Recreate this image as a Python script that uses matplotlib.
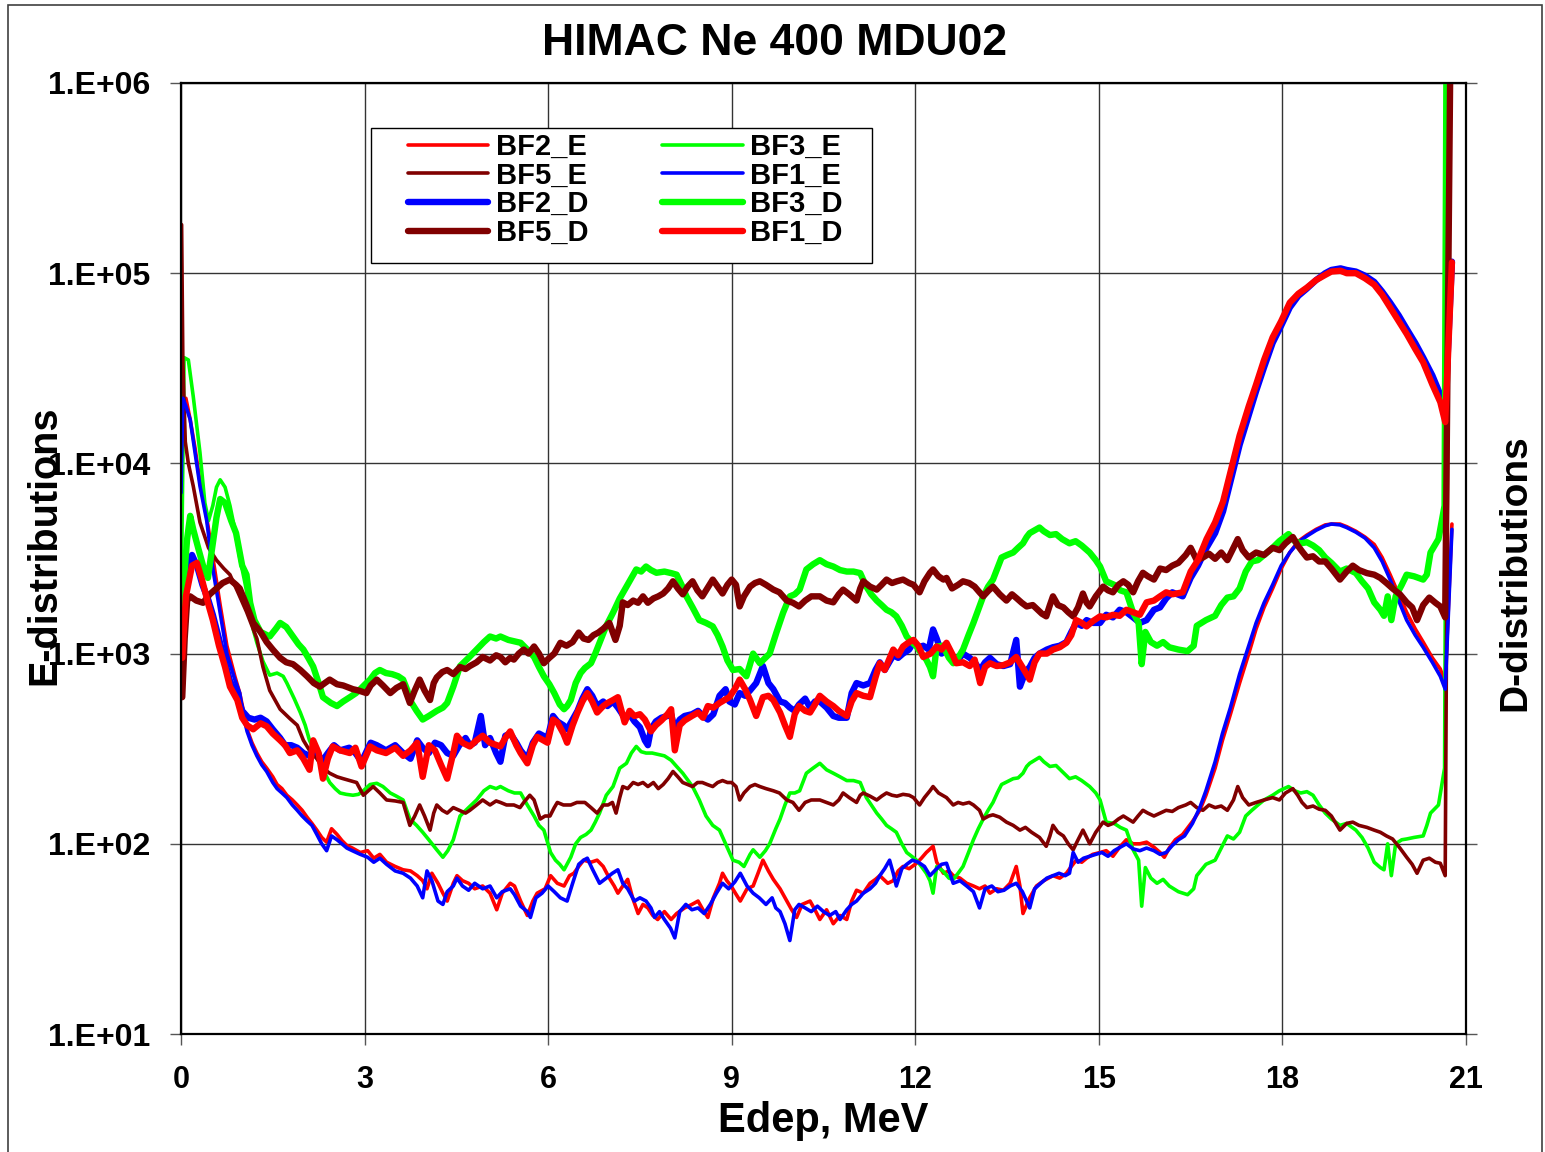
import numpy as np
import matplotlib
matplotlib.use("Agg")
import matplotlib.pyplot as plt
from matplotlib.patches import Rectangle
from matplotlib.ticker import FixedLocator, NullLocator

plt.rcParams["font.family"] = ["Liberation Sans", "DejaVu Sans"]
plt.rcParams["font.weight"] = "bold"

# ---- data: (Edep MeV, counts) ----
bf1_d = [(0.02, 950), (0.08, 2000), (0.18, 2900), (0.26, 3000), (0.35, 2400), (0.45, 1800), (0.52, 1500),
         (0.62, 1100), (0.72, 850), (0.8, 670), (0.92, 570), (1.0, 460), (1.08, 420), (1.18, 400), (1.3, 430),
         (1.4, 415), (1.5, 380), (1.62, 350), (1.7, 330), (1.78, 300), (1.9, 310), (2.0, 280), (2.1, 245),
         (2.16, 350), (2.25, 300), (2.32, 220), (2.4, 280), (2.48, 325), (2.6, 310), (2.76, 300), (2.85, 320),
         (2.95, 255), (3.09, 325), (3.2, 310), (3.35, 300), (3.5, 320), (3.63, 290), (3.75, 310), (3.86, 340),
         (3.95, 225), (4.05, 330), (4.15, 310), (4.25, 260), (4.35, 220), (4.45, 300), (4.51, 370), (4.6, 340),
         (4.72, 325), (4.83, 350), (4.93, 370), (5.05, 340), (5.22, 325), (5.3, 360), (5.38, 390), (5.48, 330),
         (5.55, 300), (5.66, 265), (5.75, 330), (5.82, 365), (5.99, 340), (6.08, 450), (6.15, 435), (6.25, 380),
         (6.31, 340), (6.4, 420), (6.48, 490), (6.56, 560), (6.64, 620), (6.72, 560), (6.8, 490), (6.9, 530),
         (6.97, 550), (7.06, 570), (7.14, 590), (7.25, 435), (7.33, 500), (7.41, 470), (7.5, 480), (7.58, 450),
         (7.68, 390), (7.76, 420), (7.85, 445), (7.95, 480), (8.01, 510), (8.07, 310), (8.15, 420), (8.23, 445),
         (8.35, 470), (8.45, 490), (8.53, 460), (8.61, 530), (8.7, 520), (8.8, 550), (8.96, 590), (9.05, 650),
         (9.13, 730), (9.22, 650), (9.3, 570), (9.4, 470), (9.51, 590), (9.6, 600), (9.68, 570), (9.79, 490),
         (9.87, 420), (9.95, 365), (10.03, 480), (10.1, 530), (10.2, 500), (10.28, 490), (10.36, 540),
         (10.44, 600), (10.55, 560), (10.66, 530), (10.75, 500), (10.88, 470), (10.96, 560), (11.04, 620),
         (11.15, 600), (11.26, 590), (11.35, 750), (11.42, 890), (11.5, 820), (11.64, 1050), (11.72, 980),
         (11.8, 1090), (11.9, 1150), (11.97, 1180), (12.05, 1100), (12.13, 960), (12.25, 1000), (12.35, 1090),
         (12.43, 1050), (12.51, 1140), (12.6, 1000), (12.67, 890), (12.78, 900), (12.89, 860), (12.97, 930),
         (13.06, 700), (13.14, 850), (13.22, 890), (13.33, 860), (13.44, 870), (13.55, 900), (13.65, 960),
         (13.75, 850), (13.87, 730), (13.95, 900), (14.03, 1000), (14.15, 1000), (14.25, 1050), (14.36, 1080),
         (14.47, 1140), (14.55, 1250), (14.63, 1500), (14.72, 1450), (14.8, 1390), (14.9, 1480), (15.02, 1570),
         (15.12, 1550), (15.23, 1600), (15.34, 1580), (15.45, 1700), (15.56, 1650), (15.67, 1600), (15.78, 1860),
         (15.9, 1900), (16.0, 2000), (16.1, 2100), (16.2, 2050), (16.37, 2100), (16.5, 2700), (16.62, 3100),
         (16.76, 4000), (16.9, 4900), (17.03, 6300), (17.15, 9000), (17.3, 14000), (17.45, 20000),
         (17.57, 26000), (17.7, 35000), (17.84, 46000), (17.98, 56000), (18.12, 70000), (18.26, 78000),
         (18.4, 84000), (18.55, 92000), (18.7, 98000), (18.8, 102000), (18.95, 103000), (19.05, 100000),
         (19.2, 100000), (19.35, 94000), (19.5, 87000), (19.63, 77000), (19.76, 66000), (19.9, 56000),
         (20.03, 48000), (20.17, 40000), (20.3, 34000), (20.45, 26000), (20.58, 21000), (20.66, 16500),
         (20.77, 114000)]

bf2_d = [(0.02, 1500), (0.1, 2800), (0.18, 3300), (0.26, 2900), (0.35, 2300), (0.45, 1900), (0.52, 1600),
         (0.62, 1200), (0.72, 900), (0.8, 720), (0.92, 600), (1.0, 500), (1.1, 460), (1.2, 450), (1.3, 460),
         (1.4, 440), (1.5, 400), (1.62, 360), (1.7, 330), (1.8, 330), (1.9, 320), (2.0, 300), (2.1, 290),
         (2.2, 320), (2.3, 270), (2.4, 300), (2.5, 330), (2.6, 310), (2.75, 320), (2.85, 300), (2.95, 270),
         (3.1, 340), (3.2, 330), (3.35, 310), (3.5, 330), (3.63, 300), (3.75, 280), (3.86, 350), (3.95, 320),
         (4.05, 300), (4.15, 340), (4.25, 330), (4.35, 300), (4.45, 290), (4.55, 330), (4.65, 360), (4.72, 330),
         (4.8, 340), (4.9, 470), (4.97, 330), (5.05, 360), (5.15, 300), (5.22, 270), (5.3, 370), (5.38, 380),
         (5.48, 340), (5.55, 310), (5.66, 280), (5.75, 340), (5.85, 380), (5.99, 360), (6.08, 470), (6.15, 440),
         (6.25, 420), (6.31, 400), (6.4, 450), (6.48, 500), (6.56, 580), (6.64, 650), (6.72, 600), (6.8, 530),
         (6.9, 560), (6.97, 530), (7.06, 560), (7.14, 520), (7.25, 460), (7.33, 480), (7.41, 440), (7.5, 410),
         (7.58, 350), (7.63, 330), (7.68, 400), (7.76, 440), (7.85, 460), (7.95, 470), (8.01, 480), (8.07, 400),
         (8.15, 450), (8.23, 470), (8.35, 480), (8.45, 500), (8.53, 470), (8.61, 450), (8.7, 480), (8.8, 600),
         (8.9, 650), (8.96, 560), (9.05, 540), (9.13, 620), (9.22, 600), (9.3, 640), (9.4, 700), (9.51, 860),
         (9.6, 700), (9.68, 650), (9.79, 560), (9.87, 550), (9.95, 520), (10.03, 500), (10.1, 540), (10.2, 580),
         (10.28, 520), (10.36, 560), (10.44, 560), (10.55, 520), (10.66, 470), (10.75, 460), (10.88, 460),
         (10.96, 620), (11.04, 700), (11.15, 680), (11.26, 700), (11.35, 820), (11.42, 900), (11.5, 820),
         (11.64, 980), (11.72, 950), (11.8, 1000), (11.9, 1050), (11.97, 1150), (12.05, 1080), (12.13, 1100),
         (12.22, 1050), (12.29, 1340), (12.35, 1200), (12.43, 1000), (12.51, 1050), (12.6, 950), (12.67, 900),
         (12.78, 1000), (12.89, 950), (12.97, 900), (13.06, 820), (13.14, 900), (13.22, 950), (13.33, 880),
         (13.44, 860), (13.55, 880), (13.65, 1180), (13.71, 670), (13.8, 800), (13.87, 850), (13.95, 950),
         (14.03, 1000), (14.15, 1050), (14.25, 1080), (14.36, 1100), (14.47, 1150), (14.55, 1300), (14.63, 1450),
         (14.72, 1400), (14.8, 1500), (14.9, 1450), (15.02, 1450), (15.12, 1600), (15.23, 1550), (15.34, 1700),
         (15.45, 1650), (15.56, 1550), (15.67, 1450), (15.78, 1500), (15.9, 1700), (16.0, 1750), (16.1, 1950),
         (16.2, 2100), (16.37, 2000), (16.5, 2500), (16.62, 2900), (16.76, 3600), (16.9, 4300), (17.03, 5600),
         (17.15, 8000), (17.3, 12500), (17.45, 18000), (17.57, 24000), (17.7, 32000), (17.84, 43000),
         (17.98, 53000), (18.12, 66000), (18.26, 76000), (18.4, 83000), (18.55, 92000), (18.7, 100000),
         (18.8, 104000), (18.95, 106000), (19.05, 104000), (19.2, 102000), (19.35, 97000), (19.5, 90000),
         (19.63, 80000), (19.76, 70000), (19.9, 60000), (20.03, 51000), (20.17, 43000), (20.3, 36000),
         (20.45, 29000), (20.58, 23000), (20.66, 19000), (20.77, 115000)]

bf2_e = [(0.0, 8000), (0.03, 20000), (0.08, 22000), (0.15, 17000), (0.23, 12000), (0.31, 8000), (0.42, 5200),
         (0.52, 3200), (0.64, 1800), (0.75, 1100), (0.88, 760), (0.96, 620), (1.02, 500), (1.08, 400),
         (1.16, 340), (1.24, 300), (1.32, 270), (1.4, 250), (1.5, 225), (1.57, 205), (1.65, 195), (1.73, 180),
         (1.82, 170), (1.9, 160), (1.98, 150), (2.06, 138), (2.14, 128), (2.22, 118), (2.3, 108), (2.38, 102),
         (2.46, 120), (2.55, 112), (2.63, 104), (2.71, 98), (2.8, 95), (2.93, 90), (3.05, 92), (3.15, 84),
         (3.25, 88), (3.36, 80), (3.5, 76), (3.63, 73), (3.75, 72), (3.86, 68), (3.95, 64), (4.02, 58),
         (4.1, 70), (4.2, 62), (4.28, 55), (4.35, 50), (4.45, 62), (4.51, 68), (4.6, 64), (4.7, 62), (4.8, 58),
         (4.93, 60), (5.05, 55), (5.16, 45), (5.25, 55), (5.38, 62), (5.45, 60), (5.55, 50), (5.66, 42),
         (5.75, 50), (5.82, 55), (5.95, 58), (6.04, 68), (6.15, 62), (6.26, 60), (6.35, 68), (6.42, 70),
         (6.5, 76), (6.58, 82), (6.7, 80), (6.8, 82), (6.9, 76), (7.0, 66), (7.08, 60), (7.14, 55), (7.22, 60),
         (7.3, 65), (7.38, 52), (7.47, 43), (7.55, 48), (7.63, 46), (7.71, 42), (7.79, 40), (7.9, 44),
         (8.01, 40), (8.1, 43), (8.23, 46), (8.35, 48), (8.45, 50), (8.53, 45), (8.61, 41), (8.7, 52), (8.8, 62),
         (8.85, 70), (8.92, 64), (8.99, 60), (9.06, 55), (9.14, 50), (9.25, 58), (9.35, 60), (9.43, 70),
         (9.51, 82), (9.6, 72), (9.68, 65), (9.79, 58), (9.9, 50), (9.98, 45), (10.06, 41), (10.15, 48),
         (10.28, 50), (10.36, 45), (10.44, 40), (10.55, 45), (10.66, 38), (10.77, 42), (10.88, 40), (10.96, 50),
         (11.04, 57), (11.15, 55), (11.26, 62), (11.35, 65), (11.42, 68), (11.55, 62), (11.64, 64), (11.72, 72),
         (11.8, 76), (11.9, 74), (12.02, 79), (12.1, 84), (12.18, 90), (12.29, 97), (12.35, 80), (12.46, 70),
         (12.55, 72), (12.62, 68), (12.73, 66), (12.84, 62), (12.95, 60), (13.05, 58), (13.14, 60), (13.22, 55),
         (13.33, 58), (13.44, 57), (13.55, 62), (13.65, 76), (13.71, 60), (13.76, 43), (13.87, 52), (13.98, 60),
         (14.1, 64), (14.25, 68), (14.36, 66), (14.47, 70), (14.55, 76), (14.63, 82), (14.72, 80), (14.8, 84),
         (14.9, 88), (15.02, 90), (15.12, 92), (15.23, 86), (15.34, 96), (15.45, 105), (15.56, 100),
         (15.67, 100), (15.78, 102), (15.9, 96), (16.0, 90), (16.07, 85), (16.15, 95), (16.25, 105),
         (16.37, 112), (16.53, 131), (16.65, 150), (16.75, 180), (16.9, 250), (17.02, 350), (17.15, 480),
         (17.3, 700), (17.45, 1000), (17.57, 1350), (17.7, 1750), (17.84, 2200), (17.98, 2800), (18.12, 3400),
         (18.26, 3900), (18.4, 4200), (18.55, 4500), (18.7, 4750), (18.8, 4800), (18.94, 4800), (19.05, 4650),
         (19.2, 4400), (19.35, 4100), (19.5, 3750), (19.63, 3200), (19.76, 2600), (19.9, 2050), (20.03, 1650),
         (20.17, 1350), (20.3, 1150), (20.45, 950), (20.58, 830), (20.66, 700), (20.77, 4800)]

bf1_e = [(0.0, 7000), (0.03, 22000), (0.08, 20000), (0.15, 17000), (0.23, 11400), (0.31, 7600), (0.42, 5000),
         (0.52, 2800), (0.64, 1640), (0.75, 1000), (0.88, 730), (0.96, 620), (1.02, 470), (1.08, 390),
         (1.16, 330), (1.24, 290), (1.32, 260), (1.4, 240), (1.5, 210), (1.57, 195), (1.65, 185), (1.73, 175),
         (1.82, 160), (1.9, 150), (1.98, 140), (2.06, 132), (2.14, 125), (2.22, 112), (2.3, 100), (2.38, 92),
         (2.46, 110), (2.55, 105), (2.63, 100), (2.71, 95), (2.8, 92), (2.93, 88), (3.05, 85), (3.15, 80),
         (3.25, 84), (3.36, 78), (3.5, 72), (3.63, 70), (3.75, 66), (3.86, 60), (3.95, 52), (4.02, 72),
         (4.1, 64), (4.2, 50), (4.28, 48), (4.35, 56), (4.45, 60), (4.51, 66), (4.6, 60), (4.7, 57), (4.8, 62),
         (4.93, 58), (5.05, 60), (5.16, 52), (5.25, 56), (5.38, 58), (5.45, 54), (5.55, 47), (5.66, 44),
         (5.71, 41), (5.8, 52), (5.9, 55), (6.0, 60), (6.1, 56), (6.2, 52), (6.31, 50), (6.4, 62), (6.5, 78),
         (6.58, 82), (6.64, 84), (6.72, 74), (6.84, 62), (6.95, 66), (7.05, 70), (7.14, 73), (7.22, 62),
         (7.3, 58), (7.41, 50), (7.5, 52), (7.6, 50), (7.68, 46), (7.74, 41), (7.82, 44), (7.9, 40), (8.0, 36),
         (8.07, 32), (8.15, 44), (8.25, 48), (8.35, 45), (8.45, 46), (8.55, 43), (8.65, 48), (8.75, 55),
         (8.85, 62), (8.95, 58), (9.05, 63), (9.14, 70), (9.25, 60), (9.35, 55), (9.45, 52), (9.56, 48),
         (9.66, 52), (9.72, 46), (9.79, 44), (9.87, 38), (9.95, 31), (10.03, 45), (10.1, 48), (10.2, 46),
         (10.3, 44), (10.4, 47), (10.5, 44), (10.6, 42), (10.7, 44), (10.77, 40), (10.88, 45), (10.96, 48),
         (11.04, 50), (11.15, 55), (11.26, 58), (11.35, 62), (11.42, 68), (11.5, 74), (11.58, 82), (11.64, 70),
         (11.69, 60), (11.78, 74), (11.86, 78), (11.95, 82), (12.05, 80), (12.15, 76), (12.24, 68), (12.35, 74),
         (12.43, 78), (12.51, 79), (12.62, 62), (12.73, 64), (12.84, 60), (12.95, 56), (13.05, 46), (13.14, 58),
         (13.25, 60), (13.35, 56), (13.45, 57), (13.55, 60), (13.65, 62), (13.75, 56), (13.87, 46), (13.95, 58),
         (14.05, 62), (14.15, 66), (14.25, 68), (14.35, 70), (14.45, 68), (14.52, 70), (14.58, 90), (14.66, 80),
         (14.75, 84), (14.85, 86), (14.95, 88), (15.05, 90), (15.15, 86), (15.25, 92), (15.35, 96), (15.45, 100),
         (15.56, 94), (15.67, 92), (15.78, 95), (15.9, 92), (16.0, 88), (16.1, 90), (16.2, 98), (16.3, 105),
         (16.4, 110), (16.53, 128), (16.65, 155), (16.75, 190), (16.9, 270), (17.02, 380), (17.15, 520),
         (17.3, 780), (17.45, 1100), (17.57, 1450), (17.7, 1850), (17.84, 2300), (17.98, 2900), (18.12, 3400),
         (18.26, 3850), (18.4, 4150), (18.55, 4450), (18.7, 4700), (18.8, 4800), (18.94, 4750), (19.05, 4600),
         (19.2, 4350), (19.35, 4050), (19.5, 3600), (19.63, 3050), (19.76, 2450), (19.9, 1900), (20.03, 1500),
         (20.17, 1250), (20.3, 1080), (20.45, 900), (20.58, 760), (20.66, 650), (20.77, 4500)]

bf5_d = [(0.02, 590), (0.06, 1200), (0.1, 1900), (0.15, 2000), (0.25, 1900), (0.36, 1850), (0.47, 2050),
         (0.58, 2200), (0.68, 2350), (0.8, 2450), (0.9, 2300), (0.96, 2200), (1.07, 1800), (1.18, 1450),
         (1.3, 1300), (1.4, 1150), (1.5, 1050), (1.62, 950), (1.72, 900), (1.83, 880), (1.95, 820), (2.06, 760),
         (2.17, 700), (2.27, 670), (2.35, 700), (2.43, 730), (2.55, 690), (2.65, 680), (2.81, 650), (2.9, 640),
         (3.03, 620), (3.1, 680), (3.2, 730), (3.3, 680), (3.42, 620), (3.52, 660), (3.63, 690), (3.74, 550),
         (3.82, 640), (3.9, 730), (3.98, 640), (4.07, 570), (4.13, 700), (4.18, 750), (4.27, 800), (4.35, 820),
         (4.45, 780), (4.56, 850), (4.65, 830), (4.72, 860), (4.83, 900), (4.93, 960), (5.05, 920), (5.15, 980),
         (5.22, 960), (5.3, 900), (5.38, 950), (5.44, 930), (5.52, 1000), (5.6, 1050), (5.68, 1000), (5.77, 1090),
         (5.85, 1000), (5.93, 890), (6.02, 950), (6.1, 1000), (6.2, 1140), (6.3, 1100), (6.4, 1150), (6.5, 1290),
         (6.58, 1200), (6.66, 1180), (6.74, 1250), (6.82, 1290), (6.9, 1350), (7.0, 1450), (7.1, 1180),
         (7.17, 1400), (7.22, 1860), (7.3, 1800), (7.39, 1900), (7.47, 1850), (7.55, 2000), (7.63, 1850),
         (7.72, 1950), (7.8, 2000), (7.88, 2070), (7.96, 2200), (8.04, 2400), (8.12, 2200), (8.2, 2050),
         (8.28, 2250), (8.36, 2400), (8.44, 2150), (8.52, 2000), (8.6, 2200), (8.69, 2450), (8.77, 2250),
         (8.85, 2070), (8.93, 2300), (9.0, 2450), (9.07, 2300), (9.13, 1770), (9.2, 2000), (9.3, 2250),
         (9.38, 2350), (9.46, 2400), (9.56, 2300), (9.68, 2170), (9.78, 2100), (9.9, 1900), (10.0, 1850),
         (10.1, 1770), (10.2, 1900), (10.3, 2000), (10.44, 2000), (10.55, 1900), (10.66, 1860), (10.75, 2050),
         (10.82, 2170), (10.92, 2050), (11.04, 1900), (11.1, 2200), (11.15, 2400), (11.26, 2250), (11.37, 2170),
         (11.45, 2300), (11.53, 2450), (11.62, 2350), (11.7, 2400), (11.8, 2450), (11.9, 2350), (11.97, 2300),
         (12.07, 2100), (12.15, 2400), (12.24, 2660), (12.29, 2770), (12.38, 2550), (12.46, 2450), (12.51, 2500),
         (12.6, 2200), (12.7, 2300), (12.78, 2400), (12.88, 2350), (12.97, 2250), (13.05, 2100), (13.11, 2000),
         (13.2, 2150), (13.27, 2250), (13.38, 2050), (13.49, 1900), (13.58, 2050), (13.66, 1950), (13.74, 1850),
         (13.82, 1770), (13.92, 1800), (14.0, 1700), (14.07, 1620), (14.14, 1570), (14.2, 1800), (14.25, 2000),
         (14.33, 1800), (14.42, 1750), (14.5, 1650), (14.58, 1570), (14.66, 1750), (14.74, 2070), (14.8, 1850),
         (14.85, 1770), (14.95, 2000), (15.07, 2250), (15.15, 2150), (15.23, 2100), (15.32, 2300), (15.4, 2400),
         (15.48, 2300), (15.56, 2100), (15.64, 2400), (15.72, 2660), (15.8, 2550), (15.9, 2450), (16.0, 2800),
         (16.1, 2750), (16.2, 2900), (16.3, 3000), (16.42, 3300), (16.5, 3600), (16.6, 3100), (16.7, 3200),
         (16.8, 3350), (16.9, 3150), (17.0, 3400), (17.1, 3100), (17.2, 3600), (17.27, 4000), (17.35, 3500),
         (17.45, 3200), (17.57, 3400), (17.7, 3300), (17.84, 3600), (17.95, 3500), (18.05, 3800), (18.17, 4100),
         (18.25, 3700), (18.32, 3450), (18.4, 3200), (18.5, 3250), (18.6, 3050), (18.7, 3050), (18.8, 2800),
         (18.94, 2450), (19.05, 2700), (19.15, 2900), (19.25, 2750), (19.38, 2650), (19.5, 2600), (19.6, 2500),
         (19.7, 2350), (19.8, 2200), (19.92, 2050), (20.03, 1860), (20.12, 1750), (20.2, 1500), (20.3, 1800),
         (20.4, 1970), (20.5, 1850), (20.58, 1770), (20.66, 1550), (20.76, 5000000)]

bf5_e = [(0.01, 180000), (0.03, 35000), (0.07, 13000), (0.12, 10000), (0.2, 7600), (0.31, 4900), (0.45, 3600),
         (0.58, 3100), (0.7, 2800), (0.8, 2600), (0.93, 2100), (1.07, 1660), (1.24, 1200), (1.34, 850),
         (1.45, 640), (1.62, 510), (1.78, 455), (1.9, 420), (2.0, 350), (2.1, 310), (2.22, 280), (2.32, 250),
         (2.43, 235), (2.55, 225), (2.65, 220), (2.76, 215), (2.87, 210), (2.98, 180), (3.06, 190), (3.14, 200),
         (3.25, 185), (3.36, 170), (3.5, 168), (3.63, 165), (3.74, 125), (3.82, 140), (3.9, 160), (3.98, 140),
         (4.07, 118), (4.13, 145), (4.18, 160), (4.27, 150), (4.35, 145), (4.45, 155), (4.55, 150), (4.65, 145),
         (4.72, 150), (4.83, 160), (4.93, 170), (5.05, 160), (5.15, 168), (5.22, 165), (5.32, 160), (5.44, 160),
         (5.54, 155), (5.62, 168), (5.7, 180), (5.77, 170), (5.87, 135), (5.95, 140), (6.03, 140), (6.1, 155),
         (6.15, 165), (6.25, 160), (6.37, 160), (6.47, 165), (6.6, 165), (6.7, 155), (6.8, 145), (6.9, 160),
         (6.98, 160), (7.05, 165), (7.11, 145), (7.17, 175), (7.22, 200), (7.3, 195), (7.39, 210), (7.47, 205),
         (7.55, 210), (7.63, 200), (7.72, 210), (7.8, 195), (7.88, 205), (7.96, 220), (8.04, 240), (8.12, 225),
         (8.2, 210), (8.28, 205), (8.36, 200), (8.44, 210), (8.52, 210), (8.6, 205), (8.69, 200), (8.77, 210),
         (8.85, 215), (8.93, 210), (9.0, 210), (9.07, 200), (9.13, 170), (9.2, 185), (9.3, 200), (9.38, 205),
         (9.46, 200), (9.56, 195), (9.68, 190), (9.78, 185), (9.9, 170), (10.0, 165), (10.1, 150), (10.2, 165),
         (10.3, 170), (10.44, 170), (10.55, 165), (10.66, 160), (10.75, 170), (10.82, 185), (10.92, 175),
         (11.04, 165), (11.1, 180), (11.15, 185), (11.26, 178), (11.37, 170), (11.45, 178), (11.53, 185),
         (11.62, 180), (11.7, 178), (11.8, 182), (11.9, 180), (11.97, 175), (12.07, 160), (12.15, 175),
         (12.24, 190), (12.29, 200), (12.38, 185), (12.51, 175), (12.62, 160), (12.7, 165), (12.78, 162),
         (12.88, 165), (12.95, 160), (13.05, 150), (13.11, 135), (13.2, 140), (13.27, 142), (13.38, 138),
         (13.49, 130), (13.6, 125), (13.71, 118), (13.8, 122), (13.9, 115), (14.03, 108), (14.14, 97),
         (14.2, 110), (14.25, 125), (14.33, 115), (14.42, 110), (14.5, 100), (14.58, 93), (14.66, 105),
         (14.74, 118), (14.8, 108), (14.85, 100), (14.95, 115), (15.07, 130), (15.15, 125), (15.23, 128),
         (15.32, 135), (15.4, 140), (15.48, 135), (15.56, 130), (15.64, 140), (15.72, 150), (15.8, 145),
         (15.9, 140), (16.0, 145), (16.1, 150), (16.2, 148), (16.3, 155), (16.42, 160), (16.5, 165), (16.6, 155),
         (16.7, 150), (16.8, 160), (16.9, 155), (17.0, 158), (17.1, 150), (17.2, 170), (17.27, 200), (17.35, 175),
         (17.45, 160), (17.57, 165), (17.7, 170), (17.84, 175), (17.95, 170), (18.05, 185), (18.17, 195),
         (18.25, 180), (18.32, 165), (18.4, 155), (18.5, 158), (18.6, 152), (18.7, 150), (18.8, 140),
         (18.94, 118), (19.05, 128), (19.15, 130), (19.25, 125), (19.38, 122), (19.5, 118), (19.6, 115),
         (19.7, 110), (19.8, 106), (19.92, 95), (20.03, 85), (20.12, 78), (20.2, 70), (20.3, 82), (20.4, 84),
         (20.5, 80), (20.58, 79), (20.66, 68), (20.72, 200000)]

bf3_d = [(0.01, 1570), (0.05, 2500), (0.1, 4000), (0.15, 5300), (0.2, 4500), (0.28, 3600), (0.36, 2900),
         (0.44, 2500), (0.52, 3800), (0.58, 5200), (0.64, 6500), (0.72, 6200), (0.82, 5000), (0.9, 4300),
         (1.0, 2900), (1.07, 2600), (1.13, 1850), (1.2, 1500), (1.3, 1300), (1.45, 1230), (1.55, 1350),
         (1.62, 1450), (1.72, 1380), (1.83, 1230), (1.92, 1120), (2.0, 1050), (2.08, 950), (2.16, 855),
         (2.25, 700), (2.32, 590), (2.45, 550), (2.55, 530), (2.65, 560), (2.76, 590), (2.86, 620), (2.93, 650),
         (3.01, 690), (3.09, 730), (3.17, 790), (3.25, 820), (3.35, 790), (3.45, 780), (3.55, 760), (3.63, 730),
         (3.7, 640), (3.74, 570), (3.85, 500), (3.95, 450), (4.05, 470), (4.18, 500), (4.28, 520), (4.35, 550),
         (4.45, 670), (4.56, 860), (4.7, 950), (4.83, 1050), (4.95, 1150), (5.05, 1230), (5.15, 1200),
         (5.22, 1230), (5.35, 1180), (5.45, 1160), (5.55, 1140), (5.66, 1050), (5.77, 960), (5.85, 850),
         (5.93, 760), (6.02, 690), (6.1, 620), (6.19, 540), (6.26, 510), (6.31, 530), (6.37, 570), (6.45, 700),
         (6.53, 790), (6.6, 840), (6.7, 890), (6.77, 1000), (6.84, 1140), (6.95, 1400), (7.06, 1640),
         (7.17, 1950), (7.28, 2250), (7.36, 2500), (7.44, 2770), (7.52, 2700), (7.6, 2870), (7.68, 2750),
         (7.77, 2660), (7.9, 2700), (8.01, 2650), (8.1, 2600), (8.18, 2300), (8.26, 2000), (8.36, 1750),
         (8.47, 1500), (8.58, 1450), (8.69, 1390), (8.77, 1250), (8.85, 1090), (8.93, 920), (9.02, 820),
         (9.13, 830), (9.24, 760), (9.3, 880), (9.35, 1000), (9.46, 890), (9.55, 950), (9.62, 1000),
         (9.73, 1290), (9.84, 1640), (9.95, 2000), (10.03, 2050), (10.11, 2170), (10.22, 2770), (10.33, 2950),
         (10.44, 3100), (10.55, 2950), (10.66, 2870), (10.77, 2750), (10.88, 2700), (10.99, 2700), (11.1, 2650),
         (11.2, 2250), (11.28, 2050), (11.37, 1900), (11.45, 1800), (11.53, 1700), (11.61, 1650), (11.69, 1570),
         (11.78, 1400), (11.86, 1230), (11.94, 1150), (12.02, 1090), (12.1, 1000), (12.18, 930), (12.24, 850),
         (12.29, 760), (12.35, 1090), (12.45, 1100), (12.55, 950), (12.62, 890), (12.7, 950), (12.78, 1050),
         (12.87, 1250), (12.95, 1450), (13.03, 1700), (13.11, 2000), (13.19, 2250), (13.27, 2450), (13.34, 2800),
         (13.41, 3200), (13.5, 3300), (13.6, 3400), (13.68, 3600), (13.76, 3800), (13.82, 4100), (13.87, 4300),
         (13.95, 4450), (14.03, 4600), (14.1, 4400), (14.2, 4200), (14.3, 4250), (14.4, 4000), (14.52, 3800),
         (14.62, 3900), (14.72, 3700), (14.85, 3400), (14.95, 3100), (15.02, 2870), (15.12, 2400), (15.25, 2300),
         (15.35, 2150), (15.45, 2100), (15.56, 1640), (15.65, 1450), (15.7, 880), (15.76, 1300), (15.85, 1150),
         (15.95, 1100), (16.05, 1150), (16.15, 1080), (16.3, 1050), (16.45, 1030), (16.55, 1100), (16.6, 1400),
         (16.75, 1500), (16.9, 1580), (17.0, 1800), (17.1, 1970), (17.2, 2000), (17.3, 2200), (17.4, 2700),
         (17.5, 3050), (17.6, 3100), (17.7, 3300), (17.84, 3600), (17.95, 3900), (18.1, 4250), (18.2, 3900),
         (18.3, 3800), (18.4, 3850), (18.5, 3700), (18.6, 3500), (18.7, 3200), (18.8, 3000), (18.94, 2700),
         (19.05, 2800), (19.2, 2650), (19.3, 2400), (19.4, 2200), (19.5, 1860), (19.6, 1700), (19.66, 1580),
         (19.72, 2000), (19.78, 1500), (19.85, 2000), (19.95, 2300), (20.03, 2600), (20.15, 2550), (20.3, 2450),
         (20.36, 2600), (20.42, 3400), (20.55, 4000), (20.65, 6000), (20.7, 40000000)]

bf3_e = [(0.0, 1500), (0.05, 36000), (0.12, 35000), (0.2, 22500), (0.31, 11400), (0.39, 6200), (0.45, 5000),
         (0.52, 6000), (0.58, 7500), (0.64, 8200), (0.72, 7500), (0.8, 6000), (0.88, 4500), (0.96, 3200),
         (1.04, 2400), (1.1, 1900), (1.18, 1340), (1.24, 1140), (1.34, 910), (1.45, 770), (1.57, 790),
         (1.67, 760), (1.73, 700), (1.85, 580), (1.95, 490), (2.03, 420), (2.1, 350), (2.2, 300), (2.27, 265),
         (2.35, 235), (2.43, 210), (2.52, 195), (2.6, 185), (2.7, 182), (2.81, 180), (2.9, 182), (2.98, 190),
         (3.09, 205), (3.2, 208), (3.3, 200), (3.42, 185), (3.52, 178), (3.63, 170), (3.74, 135), (3.85, 125),
         (3.95, 115), (4.05, 105), (4.18, 93), (4.28, 85), (4.36, 92), (4.45, 105), (4.56, 140), (4.7, 155),
         (4.83, 170), (4.95, 190), (5.05, 200), (5.15, 195), (5.22, 200), (5.35, 190), (5.45, 185), (5.55, 185),
         (5.66, 160), (5.77, 140), (5.85, 125), (5.93, 118), (6.04, 90), (6.12, 82), (6.19, 78), (6.26, 73),
         (6.37, 85), (6.45, 100), (6.53, 108), (6.62, 112), (6.7, 118), (6.77, 130), (6.84, 145), (6.95, 180),
         (7.06, 200), (7.17, 250), (7.28, 265), (7.36, 300), (7.44, 325), (7.52, 305), (7.6, 300), (7.7, 300),
         (7.8, 295), (7.9, 290), (8.01, 275), (8.1, 255), (8.2, 235), (8.36, 200), (8.47, 170), (8.58, 140),
         (8.69, 125), (8.8, 118), (8.9, 100), (9.02, 82), (9.12, 80), (9.2, 76), (9.3, 88), (9.35, 93),
         (9.46, 85), (9.55, 92), (9.62, 100), (9.72, 120), (9.79, 135), (9.87, 160), (9.95, 185), (10.03, 185),
         (10.11, 190), (10.22, 235), (10.33, 250), (10.44, 265), (10.55, 245), (10.66, 235), (10.77, 225),
         (10.88, 215), (10.99, 215), (11.1, 210), (11.2, 175), (11.28, 160), (11.37, 145), (11.45, 135),
         (11.53, 125), (11.61, 120), (11.69, 115), (11.78, 100), (11.86, 90), (11.94, 86), (12.02, 82),
         (12.1, 76), (12.18, 70), (12.24, 64), (12.29, 55), (12.35, 76), (12.45, 72), (12.55, 66), (12.62, 65),
         (12.7, 70), (12.78, 76), (12.87, 90), (12.95, 105), (13.03, 120), (13.11, 135), (13.19, 150),
         (13.27, 165), (13.34, 185), (13.41, 205), (13.5, 212), (13.6, 220), (13.68, 222), (13.76, 235),
         (13.82, 255), (13.87, 265), (13.95, 275), (14.03, 285), (14.1, 270), (14.2, 255), (14.3, 258),
         (14.4, 240), (14.52, 220), (14.62, 225), (14.72, 215), (14.85, 200), (14.95, 185), (15.02, 170),
         (15.12, 130), (15.25, 128), (15.35, 122), (15.45, 118), (15.56, 93), (15.65, 82), (15.7, 47), (15.76, 75),
         (15.85, 66), (15.95, 62), (16.05, 65), (16.15, 60), (16.3, 56), (16.45, 54), (16.55, 58), (16.6, 68),
         (16.75, 78), (16.9, 82), (17.0, 95), (17.1, 110), (17.2, 106), (17.3, 115), (17.4, 140), (17.5, 150),
         (17.6, 160), (17.7, 170), (17.84, 180), (17.95, 190), (18.1, 200), (18.2, 190), (18.3, 185), (18.4, 188),
         (18.5, 180), (18.6, 160), (18.7, 145), (18.8, 135), (18.94, 125), (19.05, 128), (19.2, 118), (19.3, 108),
         (19.4, 95), (19.5, 80), (19.6, 75), (19.66, 73), (19.72, 100), (19.78, 68), (19.85, 100), (19.95, 105),
         (20.03, 106), (20.15, 108), (20.3, 110), (20.36, 125), (20.42, 145), (20.55, 160), (20.65, 250),
         (20.7, 2000000)]

x_ticks = [0, 3, 6, 9, 12, 15, 18, 21]
y_ticks = [1e1, 1e2, 1e3, 1e4, 1e5, 1e6]
y_tick_labels = ["1.E+01", "1.E+02", "1.E+03", "1.E+04", "1.E+05", "1.E+06"]

RED = "#FF0000"
DRED = "#800000"
GREEN = "#00FF00"
BLUE = "#0000FF"
THIN = 2.6
THICK = 4.6

# draw order as in the source workbook; legend order set separately
series = [
    ("BF2_E", bf2_e, RED, THIN),
    ("BF3_E", bf3_e, GREEN, THIN),
    ("BF5_E", bf5_e, DRED, THIN),
    ("BF1_E", bf1_e, BLUE, THIN),
    ("BF2_D", bf2_d, BLUE, THICK),
    ("BF3_D", bf3_d, GREEN, THICK),
    ("BF5_D", bf5_d, DRED, THICK),
    ("BF1_D", bf1_d, RED, THICK),
]
legend_order = ["BF2_E", "BF5_E", "BF2_D", "BF5_D", "BF3_E", "BF1_E", "BF3_D", "BF1_D"]

fig = plt.figure(figsize=(15.45, 11.52), dpi=100)
ax = fig.add_axes([181 / 1545, 1 - 1034 / 1152, (1466 - 181) / 1545, (1034 - 83) / 1152])

handles = {}
for name, pts, color, lw in series:
    x, y = np.array(pts, dtype=float).T
    (ln,) = ax.plot(x, y, color=color, lw=lw, solid_joinstyle="round", solid_capstyle="round", label=name)
    handles[name] = ln

ax.set_yscale("log")
ax.set_xlim(0, 21)
ax.set_ylim(1e1, 1e6)
ax.xaxis.set_major_locator(FixedLocator(x_ticks))
ax.set_xticklabels([str(t) for t in x_ticks])
ax.yaxis.set_major_locator(FixedLocator(y_ticks))
ax.yaxis.set_minor_locator(NullLocator())
ax.set_yticklabels(y_tick_labels)

ax.grid(True, which="major", color="#333333", lw=1.0)
ax.set_axisbelow(True)
for sp in ax.spines.values():
    sp.set_linewidth(1.6)
    sp.set_color("black")

ax.tick_params(axis="y", which="major", direction="out", length=8, width=1, color="#555555",
               right=True, labelright=False, labelsize=23, pad=14)
ax.tick_params(axis="x", which="major", direction="out", length=8, width=1, color="#555555",
               labelsize=22, pad=14)
for lab in ax.get_xticklabels() + ax.get_yticklabels():
    lab.set_fontweight("bold")

# legend box drawn separately so the padding matches the original
ax.add_patch(Rectangle(((371 - 181) / 1285, 1 - (263 - 83) / 951), (872 - 371) / 1285, (263 - 128) / 951,
                       transform=ax.transAxes, facecolor="white", edgecolor="black", lw=1.0, zorder=5))
leg = ax.legend([handles[n] for n in legend_order], legend_order, ncol=2,
                loc="upper left", bbox_to_anchor=((408 - 181) / 1285, 1 - (133 - 83) / 951),
                borderaxespad=0, borderpad=0, prop={"weight": "bold", "size": 21}, frameon=False,
                handlelength=2.75, handletextpad=0.25, columnspacing=2.55, labelspacing=0.02)
leg.set_zorder(6)

fig.text(0.5016, 0.962, "HIMAC Ne 400 MDU02", ha="center", va="center", fontsize=32, fontweight="bold")
fig.text(0.533, 0.027, "Edep, MeV", ha="center", va="center", fontsize=30, fontweight="bold")
fig.text(0.029, 0.527, "E-distributions", ha="center", va="center", rotation=90, fontsize=28.5,
         fontweight="bold")
fig.text(0.9806, 0.5026, "D-distributions", ha="center", va="center", rotation=90, fontsize=28,
         fontweight="bold")

fig.patches.append(Rectangle((8 / 1545, -0.01), (1542 - 8) / 1545, 1.0057, transform=fig.transFigure,
                             fill=False, edgecolor="#404040", lw=1.2))

fig.savefig("out.png", dpi=100)
